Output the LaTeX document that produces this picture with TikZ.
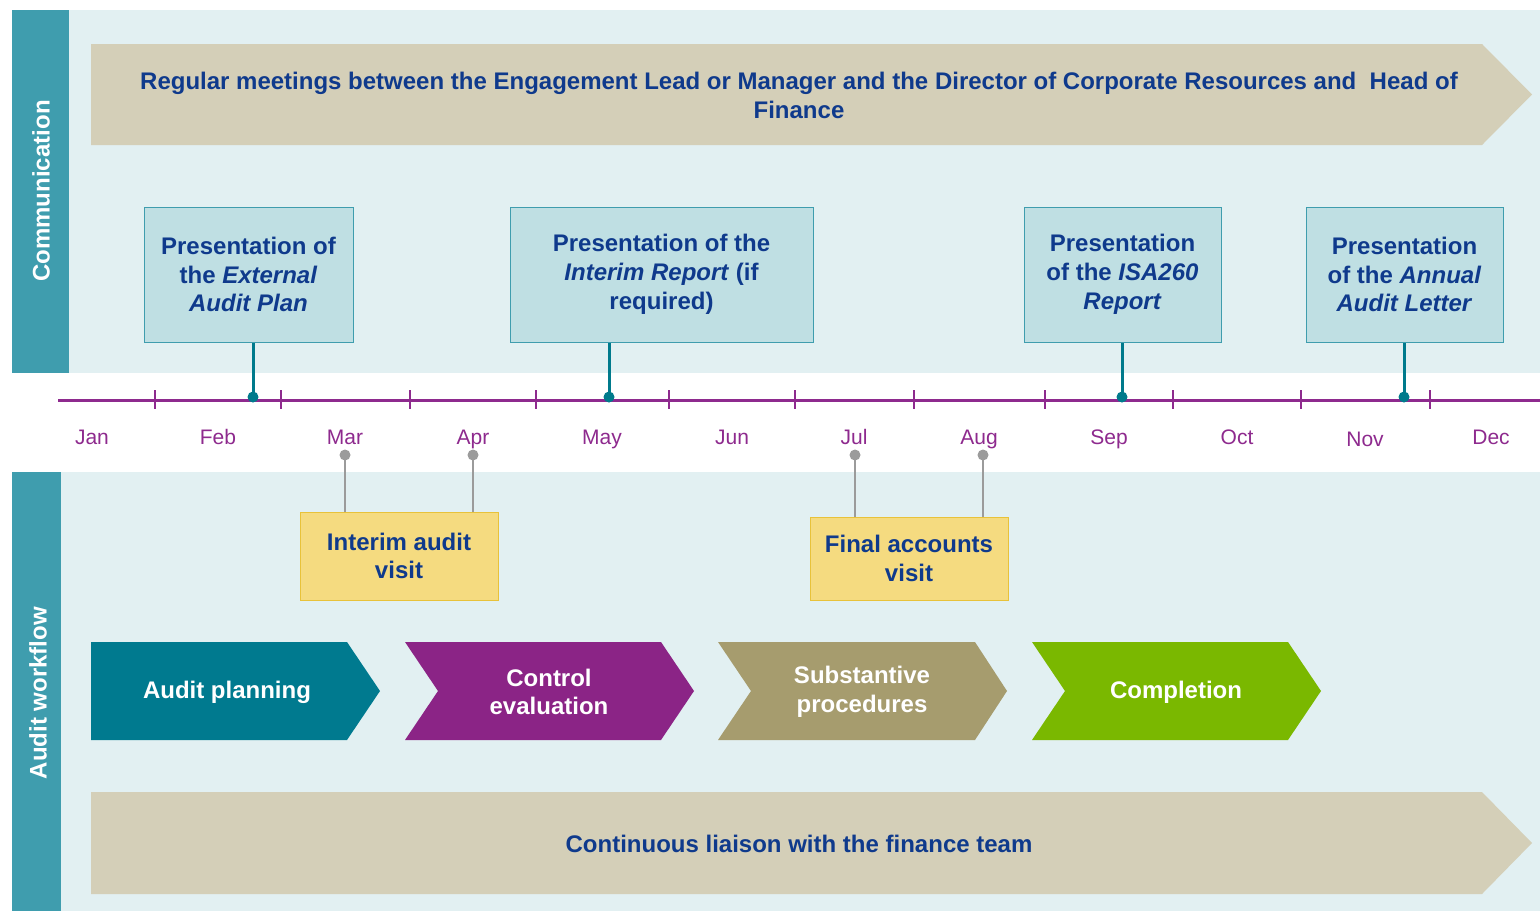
\documentclass[tikz,border=0pt]{standalone}
\usepackage{fontspec}
\setmainfont{Liberation Sans}
\definecolor{panel}{HTML}{E2F0F2}
\definecolor{sidebar}{HTML}{3F9DAE}
\definecolor{banner}{HTML}{D4CFB8}
\definecolor{navy}{HTML}{0F3A8C}
\definecolor{tline}{HTML}{8E2A8E}
\definecolor{commfill}{HTML}{BFDFE3}
\definecolor{commedge}{HTML}{3F9DAE}
\definecolor{stemteal}{HTML}{007A8C}
\definecolor{stemgray}{HTML}{9B9B9B}
\definecolor{visitfill}{HTML}{F5DB80}
\definecolor{visitedge}{HTML}{E8C23A}
\definecolor{cplan}{HTML}{007A8F}
\definecolor{ccontrol}{HTML}{8B2486}
\definecolor{csubst}{HTML}{A69C6E}
\definecolor{ccompl}{HTML}{7AB800}
\tikzset{
  txt/.style={font=\fontsize{24}{28.8}\selectfont\bfseries, align=center, inner sep=0pt},
  sidelabel/.style={txt, text=white, rotate=90},
  bannertext/.style={txt, text=navy},
  commbox/.style={txt, text=navy, draw=commedge, fill=commfill, line width=1pt, minimum height=135pt},
  visitbox/.style={txt, text=navy, draw=visitedge, fill=visitfill, line width=1pt, minimum width=198pt},
  chevtext/.style={txt, text=white},
  month/.style={font=\fontsize{21}{24}\selectfont, text=tline, inner sep=0pt, anchor=base},
  tick/.style={tline, line width=2.5pt},
  tealstem/.style={stemteal, line width=3pt},
  graystem/.style={stemgray, line width=2.8pt},
}
\begin{document}
\begin{tikzpicture}[x=1pt,y=-1pt]
\useasboundingbox (0,0) rectangle (1540,911);
\fill[white] (0,0) rectangle (1540,911);
% panels and side bars
\fill[panel] (69,10) rectangle (1540,373);
\fill[sidebar] (12,10) rectangle (69,373);
\fill[panel] (61,472) rectangle (1540,911);
\fill[sidebar] (12,472) rectangle (61,911);
\node[sidelabel] (comm) at (41,191) {Communication};
\node[sidelabel] (flow) at (38,693) {Audit workflow};

% top banner
\fill[banner] (91,44) -- (1482,44) -- (1532,94.5) -- (1482,145) -- (91,145) -- cycle;
\node[bannertext] (meet) at (799,95.5) {Regular meetings between the Engagement Lead or Manager and the Director of Corporate Resources and\ \ Head of\\Finance};

% bottom banner
\fill[banner] (91,792) -- (1482,792) -- (1532,843) -- (1482,894) -- (91,894) -- cycle;
\node[bannertext] (liaison) at (799,844) {Continuous liaison with the finance team};

% timeline
\coordinate (tl0) at (58,400);
\coordinate (tl1) at (1540,400);
\draw[tline, line width=3pt] (tl0) -- (tl1);
\foreach \x in {155,281,410,536,669,795,914,1045,1173,1301,1430}
  \draw[tick] (\x,390) -- (\x,409);
\foreach \m/\x/\y in {Jan/92/444,Feb/218/444,Mar/345/444,Apr/473/444,May/602/444,Jun/732/444,Jul/854/444,Aug/979/444,Sep/1109/444,Oct/1237/444,Nov/1365/446,Dec/1491/444}
  \node[month] (m\m) at (\x,\y) {\m};

% communication boxes
\node[commbox, minimum width=209pt] (b1) at (248.5,274.5) {Presentation of\\the \textit{External}\\\textit{Audit Plan}};
\node[commbox, minimum width=303pt] (b2) at (661.5,274.5) {Presentation of the\\\textit{Interim Report} (if\\required)};
\node[commbox, minimum width=197pt] (b3) at (1122.5,274.5) {Presentation\\of the \textit{ISA260}\\\textit{Report}};
\node[commbox, minimum width=197pt] (b4) at (1404.5,274.5) {Presentation\\of the \textit{Annual}\\\textit{Audit Letter}};

\coordinate (d1) at (253,397);
\coordinate (d2) at (609,397);
\coordinate (d3) at (1122,397);
\coordinate (d4) at (1404,397);
\foreach \d/\b in {d1/b1,d2/b2,d3/b3,d4/b4}{
  \draw[tealstem] (\d) -- (\d |- \b.south);
  \fill[stemteal] (\d) circle (5.5pt);
}

% site visits
\node[visitbox, minimum height=88pt] (v1) at (399,556) {Interim audit\\visit};
\node[visitbox, minimum height=83pt] (v2) at (909,558.5) {Final accounts\\visit};
\coordinate (g1) at (345,455);
\coordinate (g2) at (473,455);
\coordinate (g3) at (855,455);
\coordinate (g4) at (983,455);
\foreach \g/\v in {g1/v1,g2/v1,g3/v2,g4/v2}{
  \draw[graystem] (\g) -- (\g |- \v.north);
  \fill[stemgray] (\g) circle (5.5pt);
}

% workflow chevrons
\fill[cplan] (91,642) -- (347,642) -- (380,691) -- (347,740) -- (91,740) -- cycle;
\fill[ccontrol] (405,642) -- (661,642) -- (694,691) -- (661,740) -- (405,740) -- (438,691) -- cycle;
\fill[csubst] (718,642) -- (975,642) -- (1007,691) -- (975,740) -- (718,740) -- (751,691) -- cycle;
\fill[ccompl] (1032,642) -- (1288,642) -- (1321,691) -- (1288,740) -- (1032,740) -- (1065,691) -- cycle;
\node[chevtext] (c1) at (227,692) {Audit planning};
\node[chevtext] (c2) at (549,692) {Control\\evaluation};
\node[chevtext] (c3) at (862,692) {Substantive\\procedures};
\node[chevtext] (c4) at (1176,692) {Completion};
\end{tikzpicture}
\end{document}
